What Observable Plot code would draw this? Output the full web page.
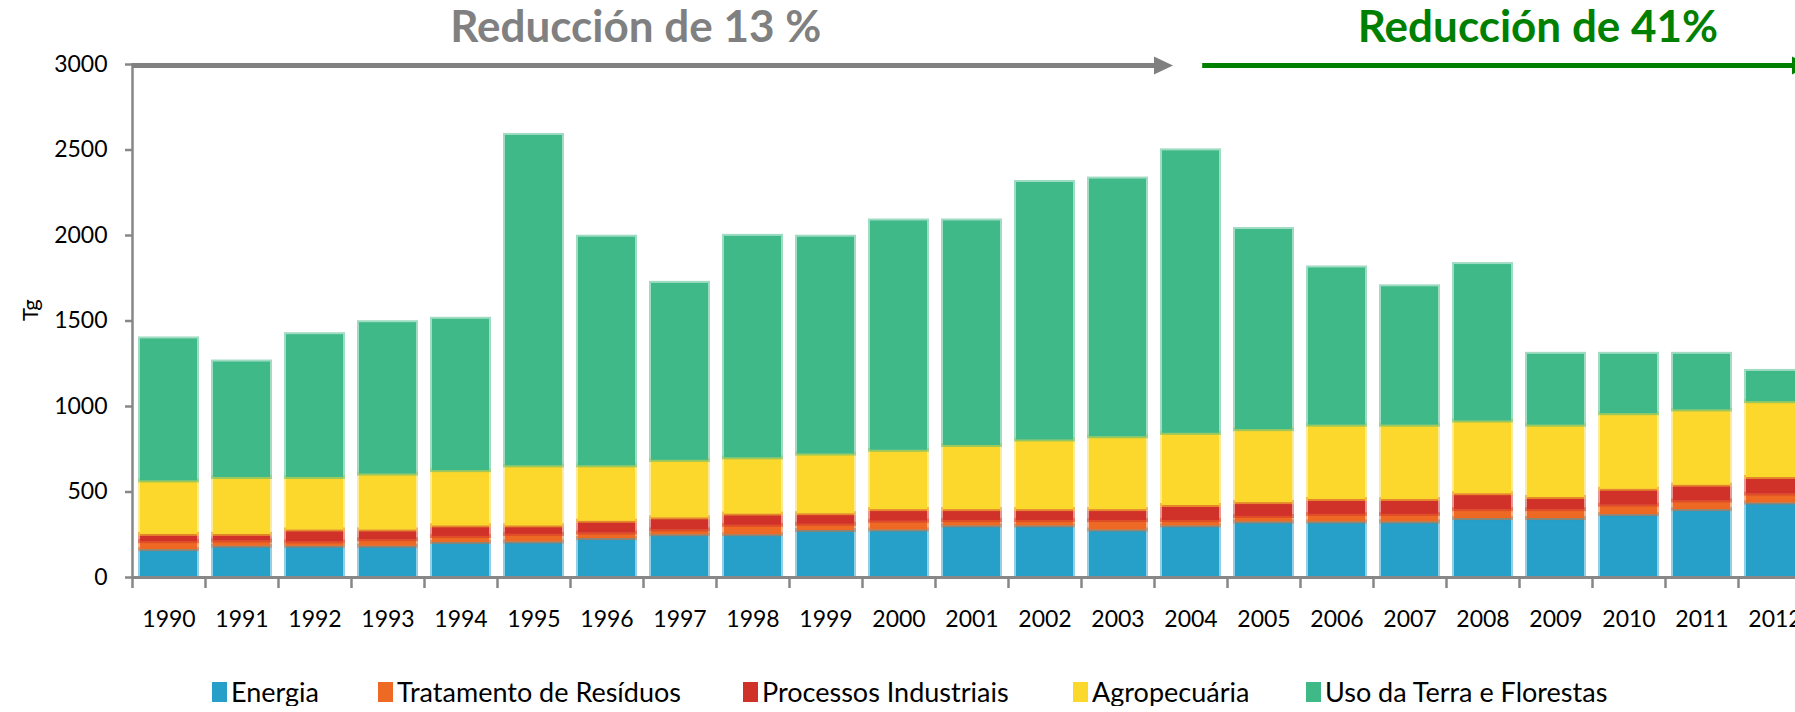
<!DOCTYPE html>
<html>
<head>
<meta charset="utf-8">
<script src="https://cdn.jsdelivr.net/npm/d3@7"></script>
<script src="https://cdn.jsdelivr.net/npm/@observablehq/plot@0.6"></script>
<style>
  html, body { margin: 0; padding: 0; background: #fff; overflow: hidden; width: 1795px; }
  #chart svg { display: block; max-width: none !important; }
  #legend { display: flex; align-items: center; margin-left: 212px; margin-top: 28px;
            font-family: Lato, sans-serif; font-size: 27px; line-height: 28px; color: #000; white-space: nowrap; }
  #legend .item { display: flex; align-items: center; }
  #legend .sw { display: inline-block; width: 15px; height: 20px; margin-right: 4px; }
</style>
</head>
<body>
<div id="chart"></div>
<div id="legend"></div>
<script>
// ---- data ----
const years = [1990,1991,1992,1993,1994,1995,1996,1997,1998,1999,2000,2001,2002,2003,2004,2005,2006,2007,2008,2009,2010,2011,2012];
const series = ["Energia", "Tratamento de Resíduos", "Processos Industriais", "Agropecuária", "Uso da Terra e Florestas"];
const colors = ["#26A0C9", "#EE6A24", "#D0322A", "#FCD82C", "#40B988"];
const energia     = [163,183,183,183,205,208,228,250,250,275,278,302,302,278,302,325,325,325,345,345,368,397,436];
const tratamento  = [47,31,25,38,35,44,32,28,55,36,51,31,31,55,31,32,44,44,52,52,55,51,52];
const processos   = [42,38,70,57,62,50,69,71,66,62,68,64,64,64,88,81,87,87,93,71,93,92,97];
const agropecuaria= [313,333,307,327,323,351,324,336,329,349,347,375,407,426,422,427,435,435,425,423,442,440,443];
const usoTerra    = [830,675,835,885,885,1932,1337,1035,1295,1268,1341,1313,1506,1507,1652,1170,919,809,915,414,347,325,177];
const yTicks = [0, 500, 1000, 1500, 2000, 2500, 3000];
const yLabel = "Tg";
const annotations = [
  {label: "Reducción de 13 %", color: "#808080", from: 0, to: 14.26, labelAt: 6.9},
  {label: "Reducción de 41%", color: "#008000", from: 14.66, to: 23, labelAt: 19.26}
];
const legendItemWidths = [166, 365, 330, 233, null];

const seriesValues = [energia, tratamento, processos, agropecuaria, usoTerra];
const data = years.flatMap((yr, i) => series.map((s, j) => ({year: String(yr), series: s, value: seriesValues[j][i]})));

const axisGray = "#878787";

const plot = Plot.plot({
  width: 1811,
  height: 650,
  marginLeft: 132,
  marginRight: 0,
  marginTop: 64,
  marginBottom: 73,
  style: {fontFamily: "Lato, sans-serif", fontSize: "23px", color: "#000", background: "#fff", maxWidth: "none"},
  x: {domain: years.map(String), paddingInner: 0.22, paddingOuter: 0.11, label: null, axis: null},
  y: {domain: [0, 3000], label: null, axis: null},
  color: {domain: series, range: colors},
  marks: [
    Plot.barY(data, {x: "year", y: "value", fill: "series", stroke: "series", strokeOpacity: 0.5, strokeWidth: 4}),
    Plot.axisY({ticks: yTicks, tickFormat: d3.format("d"), tickSize: 7, tickPadding: 18, stroke: axisGray, strokeWidth: 2.5, label: null}),
    Plot.axisX({tickSize: 0, tickPadding: 33, label: null}),
    Plot.axisX({tickSize: 11, tickFormat: () => "", dx: -36.5, stroke: axisGray, strokeWidth: 2.5, label: null}),
    Plot.frame({anchor: "left", stroke: axisGray, strokeWidth: 2.5}),
    Plot.ruleY([0], {stroke: axisGray, strokeWidth: 3}),
    Plot.text([yLabel], {frameAnchor: "left", rotate: -90, dx: -102, fontSize: 22, fill: "#000"})
  ]
});

// annotations: arrows and labels positioned with the plot's own scales
const X = plot.scale("x"), Y = plot.scale("y");
const step = X.step ?? (X.range[1] - X.range[0]) / X.domain.length;
const px = (u) => X.range[0] + u * step;
const yA = Y.apply(3000) + 1.5;
const headLen = 19, headHalf = 9;
const g = d3.select(plot).append("g");
for (const a of annotations) {
  const x1 = px(a.from), tip = px(a.to);
  g.append("line").attr("x1", x1).attr("x2", tip - headLen + 1).attr("y1", yA).attr("y2", yA)
    .attr("stroke", a.color).attr("stroke-width", 5);
  g.append("path").attr("d", `M${tip},${yA}L${tip - headLen},${yA - headHalf}L${tip - headLen},${yA + headHalf}Z`)
    .attr("fill", a.color);
  g.append("text").attr("x", px(a.labelAt)).attr("y", yA - 23.5).attr("text-anchor", "middle")
    .attr("fill", a.color).attr("font-family", "Lato, sans-serif").attr("font-weight", "bold").attr("font-size", 44)
    .text(a.label);
}

document.getElementById("chart").appendChild(plot);

// legend
const legend = d3.select("#legend");
series.forEach((s, i) => {
  const it = legend.append("div").attr("class", "item");
  if (legendItemWidths[i]) it.style("width", legendItemWidths[i] + "px");
  it.append("span").attr("class", "sw").style("background", colors[i]);
  it.append("span").text(s);
});
</script>
</body>
</html>
